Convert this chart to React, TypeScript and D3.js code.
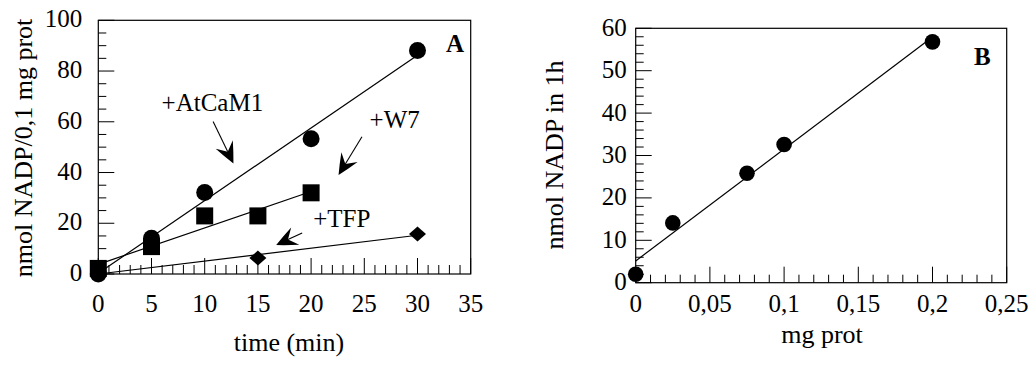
import React from "react";
import * as d3 from "d3";

// ---------- Data: panel A ----------
const timeAtCaM1 = [0, 5, 10, 20, 30];
const valAtCaM1 = [0, 14.1, 32.1, 53.3, 88.1];
const timeW7 = [0, 5, 10, 15, 20];
const valW7 = [2.2, 10.8, 22.9, 22.9, 32.0];
const timeTFP = [0, 15, 30];
const valTFP = [0, 6.3, 15.8];
const xTicksA = [0, 5, 10, 15, 20, 25, 30, 35];
const yTicksA = [0, 20, 40, 60, 80, 100];

// annotations for panel A (data coordinates)
const labelsA = [
  { text: "+AtCaM1", x: 5.95, y: 64.3 },
  { text: "+W7", x: 25.5, y: 57.6 },
  { text: "+TFP", x: 20.2, y: 18.6 },
];
const arrowsA = [
  { from: [10.79, 60.1], to: [12.7, 43.6] },
  { from: [24.78, 54.1], to: [22.58, 39.0] },
  { from: [19.16, 16.2], to: [16.72, 11.4] },
];

// ---------- Data: panel B ----------
const protB = [0, 0.025, 0.075, 0.1, 0.2];
const valB = [2.0, 14.1, 25.8, 32.6, 56.8];
const xTicksB = [0, 0.05, 0.1, 0.15, 0.2, 0.25];
const yTicksB = [0, 10, 20, 30, 40, 50, 60];

const FONT = "Liberation Serif";

function linFit(xs: number[], ys: number[]) {
  const n = xs.length;
  const mx = d3.mean(xs)!;
  const my = d3.mean(ys)!;
  let sxy = 0,
    sxx = 0;
  for (let i = 0; i < n; i++) {
    sxy += (xs[i] - mx) * (ys[i] - my);
    sxx += (xs[i] - mx) * (xs[i] - mx);
  }
  const b = sxy / sxx;
  const a = my - b * mx;
  return (x: number) => a + b * x;
}

function Arrow({ x1, y1, x2, y2 }: { x1: number; y1: number; x2: number; y2: number }) {
  const dx = x2 - x1,
    dy = y2 - y1;
  const len = Math.hypot(dx, dy);
  const ux = dx / len,
    uy = dy / len;
  const nx = -uy,
    ny = ux;
  const L = 21,
    W = 9.5,
    N = 13;
  const bx = x2 - L * ux,
    by = y2 - L * uy;
  const p1 = [bx + W * nx, by + W * ny];
  const p2 = [bx - W * nx, by - W * ny];
  const notch = [x2 - N * ux, y2 - N * uy];
  const c1 = [x2 - 0.5 * L * ux + 0.55 * W * nx, y2 - 0.5 * L * uy + 0.55 * W * ny];
  const c2 = [x2 - 0.5 * L * ux - 0.55 * W * nx, y2 - 0.5 * L * uy - 0.55 * W * ny];
  const d = `M${x2},${y2} Q${c1[0]},${c1[1]} ${p1[0]},${p1[1]} L${notch[0]},${notch[1]} L${p2[0]},${p2[1]} Q${c2[0]},${c2[1]} ${x2},${y2} Z`;
  return (
    <g>
      <line x1={x1} y1={y1} x2={notch[0]} y2={notch[1]} stroke="#000" strokeWidth={1.1} />
      <path d={d} fill="#000" />
    </g>
  );
}

export default function App() {
  // Panel A scales
  const xA = d3.scaleLinear().domain([0, 35]).range([98.3, 470.7]);
  const yA = d3.scaleLinear().domain([0, 100]).range([274, 20.3]);
  // Panel B scales
  const xB = d3.scaleLinear().domain([0, 0.25]).range([635.7, 1006.7]);
  const yB = d3.scaleLinear().domain([0, 60]).range([282.7, 28.3]);

  const fitAt = linFit(timeAtCaM1, valAtCaM1);
  const fitW7 = linFit(timeW7, valW7);
  const fitTFP = linFit(timeTFP, valTFP);
  const fitB = linFit(protB, valB);

  const line = d3.line<[number, number]>();

  const minorXA = d3.range(0, 35.001, 1);
  const minorYA = d3.range(0, 100.001, 5);
  const minorXB = d3.range(0, 0.2501, 0.01);
  const minorYB = d3.range(0, 60.001, 2);

  const fmtB = (v: number) => (v === 0 ? "0" : d3.format("~g")(+v.toFixed(2)).replace(".", ","));

  return (
    <svg width={1032} height={365} style={{ position: "absolute", left: 0, top: 0, display: "block" }}>
      <rect x={0} y={0} width={1032} height={365} fill="#fff" />
      {/* ---------------- Panel A ---------------- */}
      <g>
        {minorXA.map((t, i) => {
          const major = Math.abs(t % 5) < 1e-6;
          return (
            <line key={"mxa" + i} x1={xA(t)} x2={xA(t)} y1={yA(0)} y2={yA(0) - (major ? 16 : 9)} stroke="#000" strokeWidth={1} />
          );
        })}
        {minorYA.map((v, i) => {
          const major = Math.abs(v % 20) < 1e-6;
          return (
            <line key={"mya" + i} x1={xA(0)} x2={xA(0) + (major ? 16 : 8)} y1={yA(v)} y2={yA(v)} stroke="#000" strokeWidth={1} />
          );
        })}
        <rect x={xA(0)} y={yA(100)} width={xA(35) - xA(0)} height={yA(0) - yA(100)} fill="none" stroke="#000" strokeWidth={1.2} />
        {xTicksA.map((t) => (
          <text key={"xta" + t} x={xA(t)} y={yA(0) + 38} fontSize={25} textAnchor="middle" fontFamily={FONT}>
            {t}
          </text>
        ))}
        {yTicksA.map((v) => (
          <text key={"yta" + v} x={xA(0) - 16} y={yA(v) + 7} fontSize={25} textAnchor="end" fontFamily={FONT}>
            {v}
          </text>
        ))}
        <text x={289} y={351} fontSize={26} textAnchor="middle" fontFamily={FONT}>
          time (min)
        </text>
        <text transform={`translate(32,148) rotate(-90)`} fontSize={26} textAnchor="middle" fontFamily={FONT}>
          nmol NADP/0,1 mg prot
        </text>
        <text x={446} y={52} fontSize={25} fontWeight="bold" fontFamily={FONT}>
          A
        </text>

        {/* fit lines */}
        <path d={line([[xA(0), yA(fitAt(0))], [xA(30), yA(fitAt(30))]])!} stroke="#000" strokeWidth={1.2} fill="none" />
        <path d={line([[xA(0), yA(fitW7(0))], [xA(20), yA(fitW7(20))]])!} stroke="#000" strokeWidth={1.2} fill="none" />
        <path d={line([[xA(0), yA(Math.max(0, fitTFP(0)))], [xA(30), yA(fitTFP(30))]])!} stroke="#000" strokeWidth={1.2} fill="none" />

        {/* markers */}
        {timeTFP.map((t, i) => {
          const cx = xA(t),
            cy = yA(valTFP[i]);
          return <path key={"tfp" + i} d={`M${cx},${cy - 7.5} L${cx + 8.5},${cy} L${cx},${cy + 7.5} L${cx - 8.5},${cy} Z`} fill="#000" />;
        })}
        {timeAtCaM1.map((t, i) => (
          <circle key={"at" + i} cx={xA(t)} cy={yA(valAtCaM1[i])} r={8.5} fill="#000" />
        ))}
        {timeW7.map((t, i) => (
          <rect key={"w7" + i} x={xA(t) - 8.5} y={yA(valW7[i]) - 8.5} width={17} height={17} fill="#000" />
        ))}

        {/* annotations */}
        {labelsA.map((l) => (
          <text key={l.text} x={xA(l.x)} y={yA(l.y)} fontSize={25} fontFamily={FONT}>
            {l.text}
          </text>
        ))}
        {arrowsA.map((a, i) => (
          <Arrow key={"ar" + i} x1={xA(a.from[0])} y1={yA(a.from[1])} x2={xA(a.to[0])} y2={yA(a.to[1])} />
        ))}
      </g>

      {/* ---------------- Panel B ---------------- */}
      <g>
        {minorXB.map((t, i) => {
          const major = Math.abs(Math.round(t * 100) % 5) < 1e-6;
          return (
            <line key={"mxb" + i} x1={xB(t)} x2={xB(t)} y1={yB(0)} y2={yB(0) - (major ? 16 : 8)} stroke="#000" strokeWidth={1} />
          );
        })}
        {minorYB.map((v, i) => {
          const major = Math.abs(Math.round(v) % 10) < 1e-6;
          return (
            <line key={"myb" + i} x1={xB(0)} x2={xB(0) + (major ? 16 : 8)} y1={yB(v)} y2={yB(v)} stroke="#000" strokeWidth={1} />
          );
        })}
        <rect x={xB(0)} y={yB(60)} width={xB(0.25) - xB(0)} height={yB(0) - yB(60)} fill="none" stroke="#000" strokeWidth={1.2} />
        {xTicksB.map((t) => (
          <text key={"xtb" + t} x={xB(t)} y={yB(0) + 29} fontSize={25} textAnchor="middle" fontFamily={FONT}>
            {fmtB(t)}
          </text>
        ))}
        {yTicksB.map((v) => (
          <text key={"ytb" + v} x={xB(0) - 9} y={yB(v) + 7.5} fontSize={25} textAnchor="end" fontFamily={FONT}>
            {v}
          </text>
        ))}
        <text x={822} y={343} fontSize={26} textAnchor="middle" fontFamily={FONT}>
          mg prot
        </text>
        <text transform={`translate(563,155) rotate(-90)`} fontSize={26} textAnchor="middle" fontFamily={FONT}>
          nmol NADP in 1h
        </text>
        <text x={974} y={65} fontSize={25} fontWeight="bold" fontFamily={FONT}>
          B
        </text>
        <path d={line([[xB(0), yB(fitB(0))], [xB(0.2), yB(fitB(0.2))]])!} stroke="#000" strokeWidth={1.2} fill="none" />
        {protB.map((p, i) => (
          <circle key={"b" + i} cx={xB(p)} cy={yB(valB[i])} r={7.8} fill="#000" />
        ))}
      </g>
    </svg>
  );
}
